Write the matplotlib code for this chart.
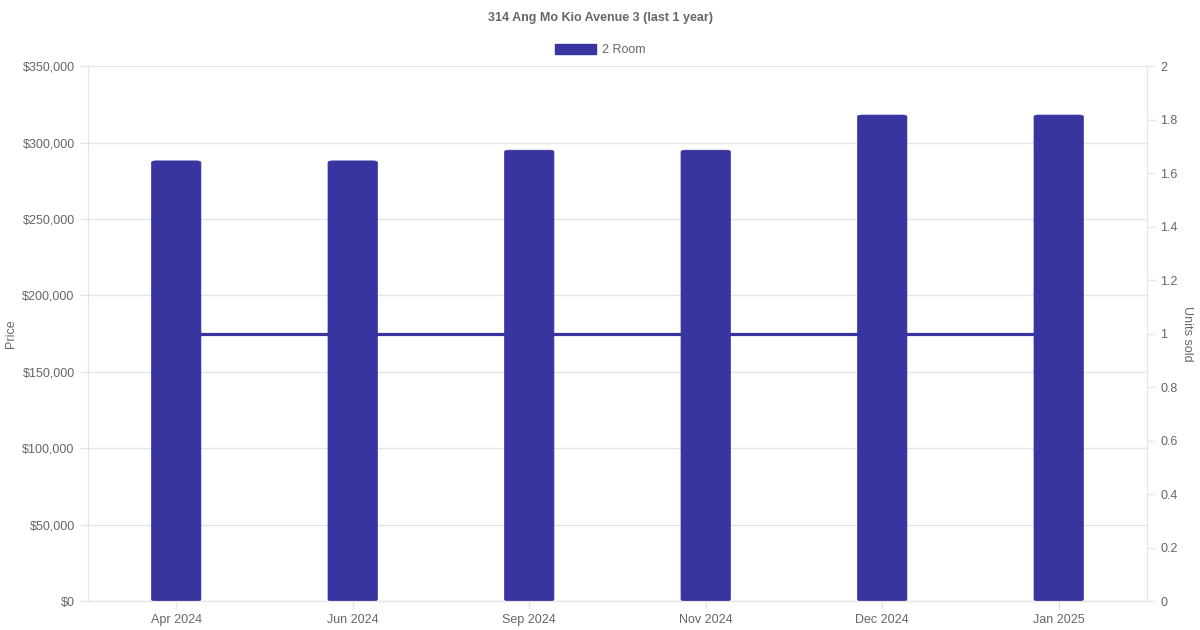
import matplotlib
matplotlib.use("Agg")
import matplotlib.pyplot as plt
import numpy as np
from matplotlib.patches import FancyBboxPatch, Patch

# data
months = ["Apr 2024", "Jun 2024", "Sep 2024", "Nov 2024", "Dec 2024", "Jan 2025"]
prices = [288000, 288000, 295000, 295000, 318000, 318000]
units_sold = [1, 1, 1, 1, 1, 1]
series_name = "2 Room"

bar_color = "#3834a0"
text_color = "#666666"
grid_color = "#e5e5e5"

plt.rcParams["font.family"] = ["Liberation Sans", "DejaVu Sans"]

fig = plt.figure(figsize=(12, 6.3), dpi=100)
ax = fig.add_axes([0.0733, 0.046, 0.8825, 0.849])
ax2 = ax.twinx()

x = np.arange(len(months))
bar_w = 0.28

# rounded bars
for xi, p in zip(x, prices):
    ax.add_patch(FancyBboxPatch((xi - bar_w / 2, 0), bar_w, p,
                                boxstyle="round,pad=0,rounding_size=0.025",
                                mutation_aspect=45000,
                                facecolor=bar_color, edgecolor=bar_color, lw=0.5))

ax.set_xlim(-0.5, len(months) - 0.5)
ax.set_ylim(0, 350000)
ax.set_yticks(np.arange(0, 350001, 50000))
ax.set_yticklabels([f"${v:,.0f}" for v in np.arange(0, 350001, 50000)])
ax.set_xticks(x)
ax.set_xticklabels(months)
ax.grid(axis="y", color=grid_color, lw=1)
ax.set_axisbelow(True)
ax.set_ylabel("Price", color=text_color, fontsize=9, va="center")
ax.yaxis.set_label_coords(-0.0727, 0.5)

# units sold line on right axis
ax2.plot(x, units_sold, color=bar_color, lw=2.3, zorder=3)
ax2.set_ylim(0, 2)
ax2.set_yticks(np.arange(0, 2.01, 0.2))
ax2.set_yticklabels([f"{v:g}" for v in np.round(np.arange(0, 2.01, 0.2), 1)])
ax2.set_ylabel("Units sold", color=text_color, fontsize=9, rotation=270, va="center")
ax2.yaxis.set_label_coords(1.038, 0.5)

for a in (ax, ax2):
    for s in a.spines.values():
        s.set_color(grid_color)
    a.tick_params(colors=text_color, labelsize=9, length=6, width=1)
    a.tick_params(axis="both", color=grid_color)
ax.spines["top"].set_visible(False)
ax2.spines["top"].set_visible(False)

fig.text(0.5, 0.972, "314 Ang Mo Kio Avenue 3 (last 1 year)", ha="center", va="center",
         fontsize=9, fontweight="bold", color=text_color)
fig.legend(handles=[Patch(facecolor=bar_color, edgecolor=bar_color, label=series_name)],
           loc="center", bbox_to_anchor=(0.5, 0.921), frameon=False, fontsize=9,
           handlelength=3.3, handleheight=0.9, handletextpad=0.5, labelcolor=text_color)

fig.savefig("out.png", dpi=100)
